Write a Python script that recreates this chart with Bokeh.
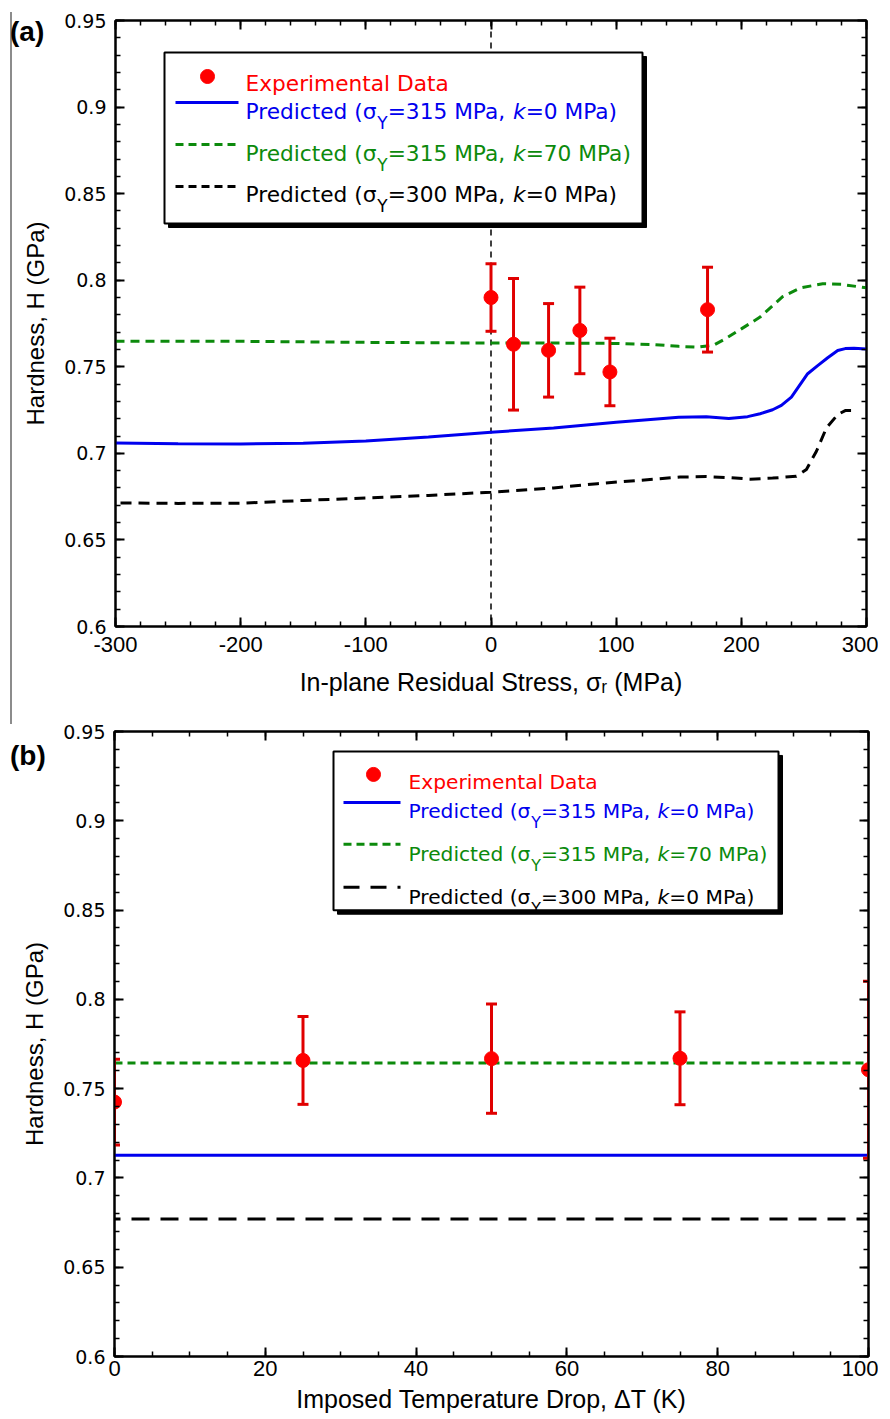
import numpy as np
from bokeh.plotting import figure
from bokeh.models import Range1d, FixedTicker, LinearAxis, Label, Span, Div
from bokeh.layouts import column, row
from bokeh.embed import file_html
from bokeh.resources import INLINE

# ================= DATA =================
# Panel (a): hardness vs in-plane residual stress
a_exp_sigma = [0, 18, 46, 71, 95, 173]
a_exp_H = [0.790, 0.763, 0.7595, 0.771, 0.747, 0.783]
a_exp_err = [0.0195, 0.038, 0.027, 0.025, 0.0195, 0.0245]

a_blue_sigma = [-300, -250, -200, -150, -100, -50, 0, 50, 100, 150, 172, 190, 205, 215,
                225, 232, 240, 253, 261, 269, 277, 283, 290, 300]
a_blue_H = [0.7060, 0.7055, 0.7054, 0.7058, 0.7072, 0.7094, 0.7122, 0.7147, 0.7180, 0.7208,
            0.7212, 0.7202, 0.7212, 0.7229, 0.7252, 0.7277, 0.7325, 0.7460, 0.7507, 0.7552,
            0.7594, 0.7605, 0.7607, 0.7603]

a_green_sigma = [-300, -200, -100, 0, 50, 100, 130, 150, 165, 178, 188, 200, 215, 233, 247,
                 265, 280, 300]
a_green_H = [0.7648, 0.7647, 0.7641, 0.7637, 0.7637, 0.7635, 0.7628, 0.7618, 0.7613, 0.7625,
             0.7665, 0.7719, 0.7787, 0.7905, 0.7955, 0.7980, 0.7976, 0.7956]

a_black_sigma = [-296, -250, -200, -150, -100, -50, 0, 50, 85, 120, 151, 172, 190, 207, 225,
                 244, 252, 260, 268, 277, 283, 290]
a_black_H = [0.6714, 0.6711, 0.6712, 0.6728, 0.6742, 0.6757, 0.6776, 0.6800, 0.6825, 0.6845,
             0.6863, 0.6866, 0.6860, 0.6851, 0.6857, 0.6868, 0.6907, 0.7012, 0.7147, 0.7224,
             0.7247, 0.7247]

# Panel (b): hardness vs imposed temperature drop
b_exp_dT = [0, 25, 50, 75, 100]
b_exp_H = [0.7425, 0.7658, 0.7668, 0.7670, 0.7606]
b_exp_err = [0.0240, 0.0246, 0.0306, 0.0260, 0.0496]
b_line_dT = [0, 100]
b_blue_H = [0.7127, 0.7127]
b_green_H = [0.7644, 0.7644]
b_black_H = [0.6770, 0.6770]

# Ticks
y_ticks = [0.6, 0.65, 0.7, 0.75, 0.8, 0.85, 0.9, 0.95]
y_tick_labels = ["0.6", "0.65", "0.7", "0.75", "0.8", "0.85", "0.9", "0.95"]
a_x_ticks = [-300, -200, -100, 0, 100, 200, 300]
a_x_tick_labels = ["-300", "-200", "-100", "0", "100", "200", "300"]
b_x_ticks = [0, 20, 40, 60, 80, 100]
b_x_tick_labels = ["0", "20", "40", "60", "80", "100"]

# Axis titles
a_xlabel = "In-plane Residual Stress, σᵣ (MPa)"
b_xlabel = "Imposed Temperature Drop, ΔT (K)"
ylabel = "Hardness, H (GPa)"

# Legend series parameters: (sigma_Y, k)
series_params = [("315", "0"), ("315", "70"), ("300", "0")]

# ================= STYLE =================
RED = "#ff0000"
RED_BAR = "#e00000"
BLUE = "#0000ee"
GREEN = "#0c8a0c"
BLACK = "#000000"
LEG_FONT = "DejaVu Sans"
AX_FONT = "Liberation Sans"
LEFT_DIV_W = 12

# advance widths (em) of DejaVu Sans, for composing legend text pieces
DV = {' ': .318, '(': .390, ')': .390, ',': .318, '-': .361, '=': .838, 'D': .770, 'E': .632,
      'M': .863, 'P': .603, 'Y': .611, 'a': .613, 'c': .550, 'd': .635, 'e': .615, 'i': .278,
      'k': .579, 'l': .278, 'm': .974, 'n': .634, 'p': .635, 'r': .411, 't': .392, 'x': .592,
      'σ': .634}


def tw(s, size):
    return sum(.636 if c.isdigit() else DV.get(c, .6) for c in s) * size


def mapper(x0, x1, y0, y1, fl, fr, ft, fb):
    def fx(px):
        return x0 + (px - fl) * (x1 - x0) / (fr - fl)

    def fy(py):
        return y1 - (py - ft) * (y1 - y0) / (fb - ft)
    return fx, fy


def add_text(p, fx, fy, px, py, text, size, color, font, style="normal"):
    p.add_layout(Label(x=float(fx(px)), y=float(fy(py)), text=text, text_font=font,
                       text_font_size=f"{size}px", text_color=color, text_font_style=style,
                       text_align="left", text_baseline="alphabetic"))


def add_rich(p, fx, fy, px, py, pieces, color, font):
    x = px
    for t, s, dy, st in pieces:
        add_text(p, fx, fy, x, py + dy, t, s, color, font, style=st)
        x += tw(t, s)


def make_panel(xr, xt, xtl, xminor, W, H, ml, mr, mt, mb, xlabel, x_std, xl_std):
    p = figure(width=W, height=H, x_range=Range1d(*xr), y_range=Range1d(0.6, 0.95),
               output_backend="svg", toolbar_location=None,
               min_border_left=ml, min_border_right=mr, min_border_top=mt, min_border_bottom=mb)
    p.grid.visible = False
    p.outline_line_color = "black"
    p.outline_line_width = 2
    p.background_fill_color = "white"
    p.border_fill_color = None
    bottom = p.below[0]
    left = p.left[0]
    top = LinearAxis()
    right = LinearAxis()
    p.add_layout(top, "above")
    p.add_layout(right, "right")
    xtick = FixedTicker(ticks=xt, minor_ticks=list(xminor))
    ytick = FixedTicker(ticks=y_ticks, minor_ticks=[round(v, 2) for v in np.arange(0.6, 0.9501, 0.01)])
    for ax in (bottom, top):
        ax.ticker = xtick
    for ax in (left, right):
        ax.ticker = ytick
    for ax in (bottom, top, left, right):
        ax.axis_line_width = 2
        ax.axis_line_color = "black"
        ax.major_tick_in = 9
        ax.major_tick_out = 0
        ax.minor_tick_in = 5
        ax.minor_tick_out = 0
        ax.major_tick_line_width = 2
        ax.minor_tick_line_width = 1.5
        ax.major_tick_line_color = "black"
        ax.minor_tick_line_color = "black"
    for ax in (top, right):
        ax.major_label_text_color = None
        ax.major_label_text_font_size = "1px"
        ax.major_label_standoff = 0
    bottom.major_label_overrides = dict(zip(xt, xtl))
    bottom.major_label_text_font = AX_FONT
    bottom.major_label_text_font_size = "22px"
    bottom.major_label_text_color = "black"
    bottom.major_label_standoff = x_std
    bottom.axis_label = xlabel
    bottom.axis_label_text_font = AX_FONT
    bottom.axis_label_text_font_size = "25px"
    bottom.axis_label_text_font_style = "normal"
    bottom.axis_label_text_color = "black"
    bottom.axis_label_standoff = xl_std
    left.major_label_overrides = dict(zip(y_ticks, y_tick_labels))
    left.major_label_text_font = "DejaVu Sans"
    left.major_label_text_font_size = "19px"
    left.major_label_text_color = "black"
    left.major_label_standoff = 9
    left.axis_label = ylabel
    left.axis_label_text_font = AX_FONT
    left.axis_label_text_font_size = "24px"
    left.axis_label_text_font_style = "normal"
    left.axis_label_text_color = "black"
    left.axis_label_standoff = 12
    return p


def error_points(p, x, H, err):
    H = np.array(H)
    err = np.array(err)
    p.segment(x0=x, y0=H - err, x1=x, y1=H + err, line_color=RED_BAR, line_width=3)
    p.scatter(x, H - err, marker="dash", size=11, line_color=RED_BAR, line_width=3)
    p.scatter(x, H + err, marker="dash", size=11, line_color=RED_BAR, line_width=3)
    p.scatter(x, H, marker="circle", size=14, fill_color=RED, line_color=RED)


def legend(p, fx, fy, box, marker_xy, line_x, line_ys, text_x, baselines, dashes, fs):
    l, r, t, b = box
    p.quad(left=[fx(l + 4)], right=[fx(r + 4)], top=[fy(t + 4)], bottom=[fy(b + 4)],
           fill_color="black", line_color="black")
    p.quad(left=[fx(l)], right=[fx(r)], top=[fy(t)], bottom=[fy(b)],
           fill_color="white", line_color="black", line_width=2)
    p.scatter([fx(marker_xy[0])], [fy(marker_xy[1])], size=14, fill_color=RED, line_color=RED)
    add_text(p, fx, fy, text_x, baselines[0], "Experimental Data", fs, RED, LEG_FONT)
    colors = [BLUE, GREEN, BLACK]
    sub = round(fs * 0.78, 1)
    for i, ((sy, k), col, dash) in enumerate(zip(series_params, colors, dashes)):
        yl = line_ys[i]
        p.line([fx(line_x[0]), fx(line_x[1])], [fy(yl), fy(yl)], line_color=col, line_width=3,
               line_dash=dash)
        pieces = [("Predicted (σ", fs, 0, "normal"), ("Y", sub, 11, "normal"),
                  (f"={sy} MPa, ", fs, 0, "normal"), ("k", fs, 0, "italic"),
                  (f"={k} MPa)", fs, 0, "normal")]
        add_rich(p, fx, fy, text_x, baselines[i + 1], pieces, col, LEG_FONT)


def side_div(label, height, label_top, line_h):
    line = ""
    if line_h:
        line = (f'<div style="position:absolute;left:10px;top:0px;width:2px;height:{line_h}px;'
                f'background:#8c8c8c;"></div>')
    html = (f'<div style="position:relative;width:{LEFT_DIV_W}px;height:0px;overflow:visible;">'
            + line
            + f'<span style="position:absolute;left:10px;top:{label_top}px;font-family:\'Liberation Sans\',Arial,sans-serif;'
              f'font-weight:bold;font-size:28px;line-height:28px;white-space:nowrap;color:black;">{label}</span></div>')
    return Div(text=html, width=LEFT_DIV_W, height=height, margin=0,
               styles={"overflow": "visible", "z-index": "5"})


# ================= PANEL (a) =================
A_H = 718
pa = make_panel((-300, 300), a_x_ticks, a_x_tick_labels, np.arange(-300, 301, 20),
                866, A_H, 115 - LEFT_DIV_W, 12, 20, A_H - 626, a_xlabel, 10, 13)
fxa, fya = mapper(-300, 300, 0.6, 0.95, 115, 866, 20, 626)

pa.add_layout(Span(location=0, dimension="height", line_color="black", line_width=1.5,
                   line_dash="6 5", level="underlay"))
pa.line(a_blue_sigma, a_blue_H, line_color=BLUE, line_width=3)
pa.line(a_green_sigma, a_green_H, line_color=GREEN, line_width=3, line_dash="9 6")
pa.line(a_black_sigma, a_black_H, line_color=BLACK, line_width=3, line_dash="11 7")
error_points(pa, a_exp_sigma, a_exp_H, a_exp_err)
legend(pa, fxa, fya, (164, 642, 52, 223), (207, 76), (175, 238), (102, 144, 186), 245,
       (83, 111, 153, 194), ("solid", "8 5", "8 5"), 21.7)

# ================= PANEL (b) =================
B_TOP = A_H
B_H = 697
pb = make_panel((0, 100), b_x_ticks, b_x_tick_labels, np.arange(0, 101, 5),
                866, B_H, 114 - LEFT_DIV_W, 10, 731 - B_TOP, B_TOP + B_H - 1357, b_xlabel, 4, 6)
fxb, fyb = mapper(0, 100, 0.6, 0.95, 114, 868, 731, 1357)

pb.line(b_line_dT, b_blue_H, line_color=BLUE, line_width=3)
pb.line(b_line_dT, b_green_H, line_color=GREEN, line_width=3, line_dash="8 5")
pb.line(b_line_dT, b_black_H, line_color=BLACK, line_width=3, line_dash="18 11",
        line_dash_offset=12)
error_points(pb, b_exp_dT, b_exp_H, b_exp_err)
legend(pb, fxb, fyb, (333, 778, 751, 910), (373, 774), (343, 400), (802, 844, 887), 408,
       (782, 811, 854, 897), ("solid", "8 5", "16 11"), 20.2)

div_a = side_div("(a)", A_H, 6, 712)
div_b = side_div("(b)", B_H, 732 - B_TOP - 2, 0)

layout = column(row(div_a, pa, spacing=0), row(div_b, pb, spacing=0), spacing=0)
open("out.html", "w").write(file_html(layout, INLINE))
